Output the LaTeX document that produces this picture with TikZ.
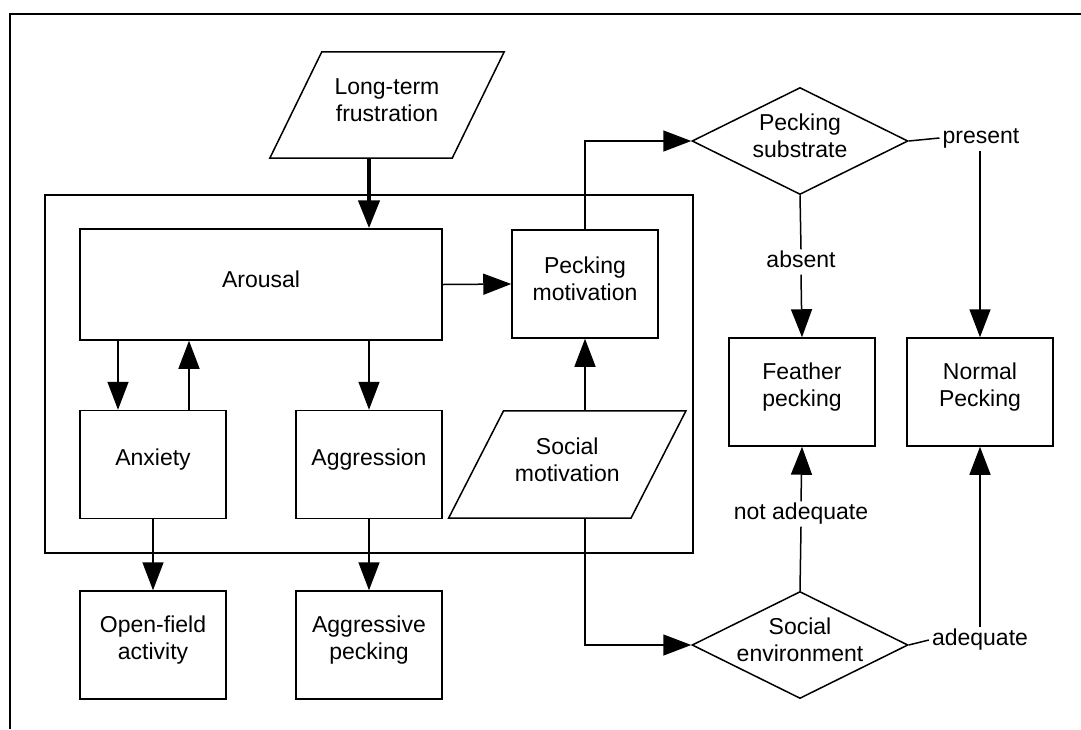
\documentclass[tikz,border=0pt]{standalone}
\usepackage{fontspec}
\setmainfont{Liberation Sans}
\usetikzlibrary{arrows.meta,shapes.geometric,calc}
\begin{document}
\begin{tikzpicture}[x=1pt,y=-1pt,
  every node/.style={font=\fontsize{23}{27}\selectfont},
  ln/.style={line width=1.5pt},
  arr/.style={ln,-{Triangle[length=28pt,width=21pt]}},
  box/.style={draw,ln,inner sep=0pt,minimum width=146pt,minimum height=108pt},
  txt/.style={align=center,inner sep=0pt,yshift=5pt},
  lbl/.style={inner sep=3pt,text height=15pt,text depth=4pt},
  dia/.style={diamond,draw,ln,inner sep=0pt,minimum width=216pt,minimum height=107pt},
  par/.style={inner sep=0pt,minimum width=182pt,minimum height=106pt}]
\useasboundingbox (0,0) rectangle (1081,729);
% page frame
\draw[ln] (10,729) -- (10,14) -- (1081,14);

% group box
\node[draw,ln,inner sep=0pt,minimum width=648pt,minimum height=358pt] (grp) at (369,374) {};

% long-term frustration
\node[par,label={[txt]center:Long-term\\frustration}] (ltf) at (387,105) {};
\draw[ln] ([xshift=-26pt]ltf.south west) -- ([xshift=-26pt]ltf.south east)
  -- ([xshift=26pt]ltf.north east) -- ([xshift=26pt]ltf.north west) -- cycle;

% boxes
\node[box,minimum width=362pt,minimum height=111pt,label={[txt]center:Arousal}] (ar) at (261,284.5) {};
\node[box,label={[txt]center:Pecking\\motivation}] (pm) at (585,284) {};
\node[box,label={[txt]center:Anxiety}] (anx) at (153,464.5) {};
\node[box,label={[txt]center:Aggression}] (agg) at (369,464.5) {};
\node[box,label={[txt]center:Open-field\\activity}] (ofa) at (153,645) {};
\node[box,label={[txt]center:Aggressive\\pecking}] (agp) at (369,645) {};
\node[box,label={[txt]center:Feather\\pecking}] (fp) at (802,392) {};
\node[box,label={[txt]center:Normal\\Pecking}] (np) at (980,392) {};

% social motivation
\node[par,minimum height=107pt,label={[txt]center:Social\\motivation}] (sm) at (567.25,464.5) {};
\draw[ln] ([xshift=-27.5pt]sm.south west) -- ([xshift=-27.5pt]sm.south east)
  -- ([xshift=27.5pt]sm.north east) -- ([xshift=27.5pt]sm.north west) -- cycle;

% diamonds
\node[dia,label={[txt]center:Pecking\\substrate}] (ps) at (800,141) {};
\node[dia,label={[txt]center:Social\\environment}] (se) at (800,645) {};

% labels
\node[lbl] (abs) at (801,262) {absent};
\node[lbl] (pres) at (981,138) {present};
\node[lbl] (nad) at (801,514) {not adequate};
\node[lbl] (adq) at (980,640) {adequate};

% connectors
\draw[arr,line width=4.5pt] (ltf.south -| agg.north) -- (ar.north -| agg.north);
\draw[arr] (ar.east) -- (pm.west);
\draw[arr] (pm.north) |- (ps.west);
\draw[arr] ([xshift=-35pt]ar.south -| anx.north) -- ([xshift=-35pt]anx.north);
\draw[arr] ([xshift=36pt]anx.north) -- ([xshift=36pt]ar.south -| anx.north);
\draw[arr] (ar.south -| agg.north) -- (agg.north);
\draw[arr] (anx.south) -- (ofa.north);
\draw[arr] (agg.south) -- (agp.north);
\draw[arr] (sm.north -| pm.south) -- (pm.south);
\draw[arr] (sm.south -| pm.south) |- (se.west);
\draw[ln] (ps.south) -- (abs.north);
\draw[arr] (abs.south) -- (fp.north);
\draw[ln] (ps.east) -- (pres.west);
\draw[arr] (pres.south -| np.north) -- (np.north);
\draw[ln] (se.north) -- (nad.south);
\draw[arr] (nad.north) -- (fp.south);
\draw[ln] (se.east) -- (adq.west);
\draw[arr] (adq.north -| np.south) -- (np.south);
\end{tikzpicture}
\end{document}
